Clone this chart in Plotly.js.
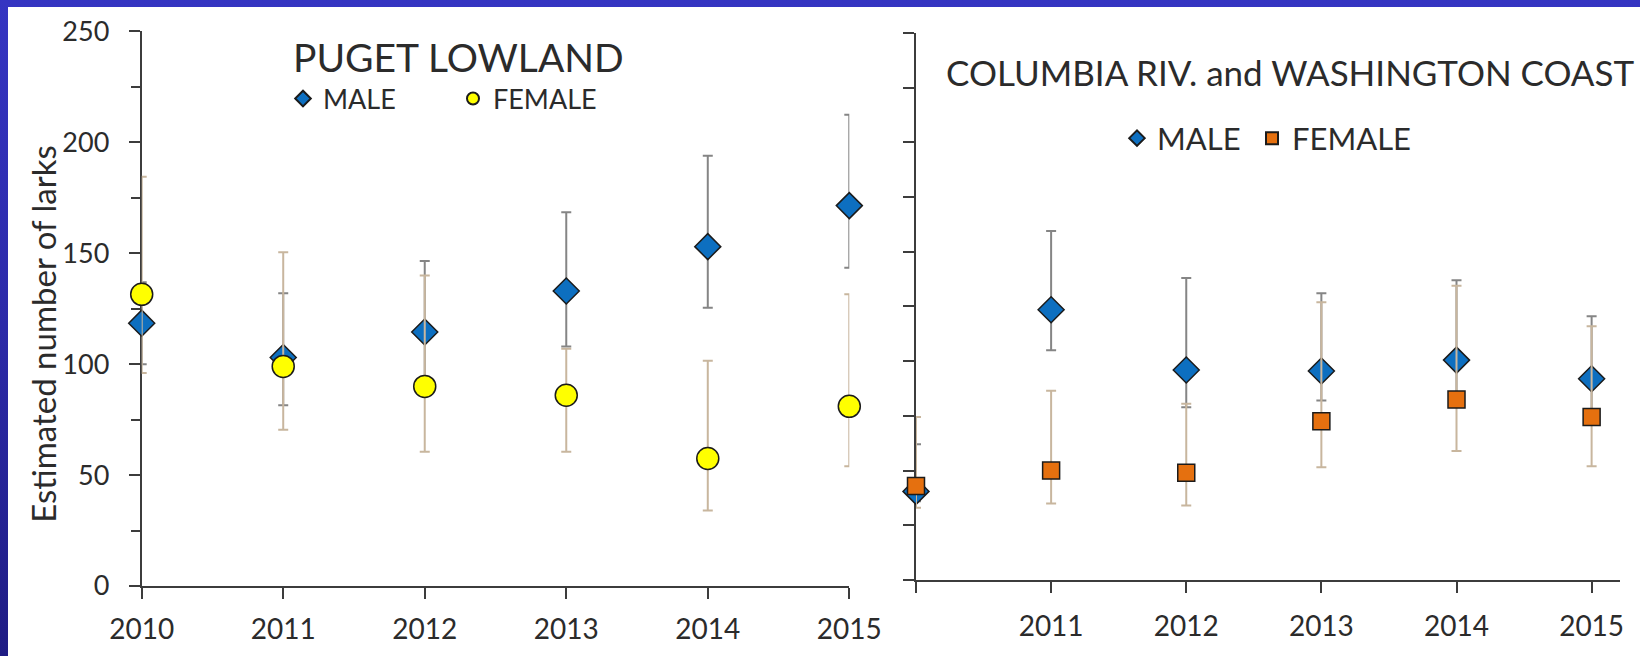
<!DOCTYPE html>
<html>
<head>
<meta charset="utf-8">
<script src="https://cdn.plot.ly/plotly-3.0.1.min.js"></script>
<style>
  html, body { margin: 0; padding: 0; }
  body {
    width: 1640px; height: 656px; overflow: hidden; position: relative;
    background: linear-gradient(180deg, #3535c2 0%, #2c2aa8 50%, #1f1c84 100%);
  }
  #chart { position: absolute; left: 8px; top: 7px; width: 1632px; height: 649px; background: #ffffff; }
</style>
</head>
<body>
<div id="chart"></div>
<script>
// ---- data ----
const years = [2010, 2011, 2012, 2013, 2014, 2015];
const yearLabelsLeft = ['2010', '2011', '2012', '2013', '2014', '2015'];
const yearLabelsRight = ['', '2011', '2012', '2013', '2014', '2015'];

// Puget Lowland
const pugetMale = [118.5, 103, 114.5, 133, 153, 171.5];
const pugetMaleUpper = [137, 132, 146.5, 168.5, 194, 212.5];
const pugetMaleLower = [100, 81.5, 87, 108, 125.5, 143.5];
const pugetFemale = [131.5, 99, 90, 86, 57.5, 81];
const pugetFemaleUpper = [184.5, 150.5, 140, 107, 101.5, 131.5];
const pugetFemaleLower = [96, 70.5, 60.5, 60.5, 34, 54];

// Columbia River and Washington Coast
const coastMale = [40.5, 123.5, 96, 95.5, 100.5, 92];
const coastMaleUpper = [62, 159.5, 138, 131, 137, 120.5];
const coastMaleLower = [36, 105, 79, 82, 85, 78];
const coastFemale = [43, 50, 49, 72.5, 82.5, 74.5];
const coastFemaleUpper = [74.5, 86.5, 80.5, 127, 134.5, 116];
const coastFemaleLower = [33, 35, 34, 51.5, 59, 52];

const leftTicks = [0, 50, 100, 150, 200, 250];

// ---- helpers ----
const plus = (v, up) => up.map((u, i) => u - v[i]);
const minus = (v, lo) => lo.map((l, i) => v[i] - l);

const FONT = 'Lato, "Open Sans", sans-serif';
const TXT = '#2b2b2b';
const AX = '#3c3c3c';
const MALE_COLOR = '#0d6fc0';
const EDGE = '#1b1b1b';

function err(v, up, lo, color) {
  return { type: 'data', symmetric: false, array: plus(v, up), arrayminus: minus(v, lo),
           color: color, thickness: 2, width: 5 };
}

const traces = [
  { x: years, y: pugetMale, name: 'MALE', type: 'scatter', mode: 'markers',
    xaxis: 'x', yaxis: 'y', legend: 'legend', legendwidth: 125, cliponaxis: false,
    marker: { symbol: 'diamond', size: 20, color: MALE_COLOR, line: { color: EDGE, width: 1.5 } },
    error_y: err(pugetMale, pugetMaleUpper, pugetMaleLower, '#858585') },
  { x: years, y: pugetFemale, name: 'FEMALE', type: 'scatter', mode: 'markers',
    xaxis: 'x', yaxis: 'y', legend: 'legend', legendwidth: 130, cliponaxis: false,
    marker: { symbol: 'circle', size: 22, color: '#ffff00', line: { color: EDGE, width: 1.5 } },
    error_y: err(pugetFemale, pugetFemaleUpper, pugetFemaleLower, '#c8b69e') },
  { x: years, y: coastMale, name: 'MALE', type: 'scatter', mode: 'markers',
    xaxis: 'x2', yaxis: 'y2', legend: 'legend2', legendwidth: 90, cliponaxis: false,
    marker: { symbol: 'diamond', size: 20, color: MALE_COLOR, line: { color: EDGE, width: 1.5 } },
    error_y: err(coastMale, coastMaleUpper, coastMaleLower, '#858585') },
  { x: years, y: coastFemale, name: 'FEMALE', type: 'scatter', mode: 'markers',
    xaxis: 'x2', yaxis: 'y2', legend: 'legend2', legendwidth: 140, cliponaxis: false,
    marker: { symbol: 'square', size: 17, color: '#e5700f', line: { color: EDGE, width: 1.5 } },
    error_y: err(coastFemale, coastFemaleUpper, coastFemaleLower, '#c8b69e') }
];

const xTickFont = { family: FONT, size: 28, color: TXT };
const yTickFont = { family: FONT, size: 27, color: TXT };
const commonAxis = {
  showgrid: false, zeroline: false, showline: true, linecolor: AX, linewidth: 2,
  ticks: 'outside', ticklen: 11, tickwidth: 2, tickcolor: AX, layer: 'below traces',
  fixedrange: true
};

const layout = {
  width: 1632, height: 649,
  margin: { l: 0, r: 0, t: 0, b: 0 },
  paper_bgcolor: '#ffffff', plot_bgcolor: 'rgba(0,0,0,0)',
  font: { family: FONT, color: TXT },
  xaxis: Object.assign({}, commonAxis, {
    domain: [133.7 / 1632, 841.3 / 1632], range: [2010, 2015], anchor: 'y',
    tickmode: 'array', tickvals: years, ticktext: yearLabelsLeft, ticklabelstandoff: 6,
    tickfont: xTickFont
  }),
  yaxis: Object.assign({}, commonAxis, {
    domain: [0.10786, 0.96225], range: [0, 250], anchor: 'x',
    tickmode: 'array', tickvals: leftTicks, ticklabelstandoff: 14, tickfont: yTickFont,
    minor: { dtick: 25, ticks: 'outside', ticklen: 9, tickwidth: 2, tickcolor: AX }
  }),
  xaxis2: Object.assign({}, commonAxis, {
    domain: [908 / 1632, 1612 / 1632], range: [2010, 2015.21], anchor: 'y2',
    tickmode: 'array', tickvals: years, ticktext: yearLabelsRight, ticklabelstandoff: 9,
    tickfont: xTickFont
  }),
  yaxis2: Object.assign({}, commonAxis, {
    domain: [0.1171, 0.95994], range: [0, 250], anchor: 'x2',
    dtick: 25, tick0: 0, showticklabels: false
  }),
  legend: {
    orientation: 'h', x: 275 / 1632, y: (649 - 92) / 649, xanchor: 'left', yanchor: 'middle',
    bgcolor: 'rgba(0,0,0,0)', borderwidth: 0, font: { family: FONT, size: 27, color: TXT },
    itemsizing: 'constant', entrywidthmode: 'pixels', itemclick: false, itemdoubleclick: false
  },
  legend2: {
    orientation: 'h', x: 1109 / 1632, y: (649 - 131.5) / 649, xanchor: 'left', yanchor: 'middle',
    bgcolor: 'rgba(0,0,0,0)', borderwidth: 0, font: { family: FONT, size: 31, color: TXT },
    itemsizing: 'constant', entrywidthmode: 'pixels', itemclick: false, itemdoubleclick: false
  },
  showlegend: true,
  annotations: [
    { text: 'Estimated number of larks', xref: 'paper', yref: 'paper', x: 35 / 1632, y: 0.495,
      xanchor: 'center', yanchor: 'middle', textangle: -90, showarrow: false,
      font: { family: FONT, size: 33, color: TXT } },
    { text: 'PUGET LOWLAND', xref: 'paper', yref: 'paper', x: 450 / 1632, y: (649 - 50) / 649,
      xanchor: 'center', yanchor: 'middle', showarrow: false,
      font: { family: FONT, size: 39, color: TXT } },
    { text: 'COLUMBIA RIV. and WASHINGTON COAST', xref: 'paper', yref: 'paper', x: 1282 / 1632, y: (649 - 65) / 649,
      xanchor: 'center', yanchor: 'middle', showarrow: false,
      font: { family: FONT, size: 35, color: TXT } }
  ]
};

Plotly.newPlot('chart', traces, layout, { displayModeBar: false, staticPlot: true });
</script>
</body>
</html>
